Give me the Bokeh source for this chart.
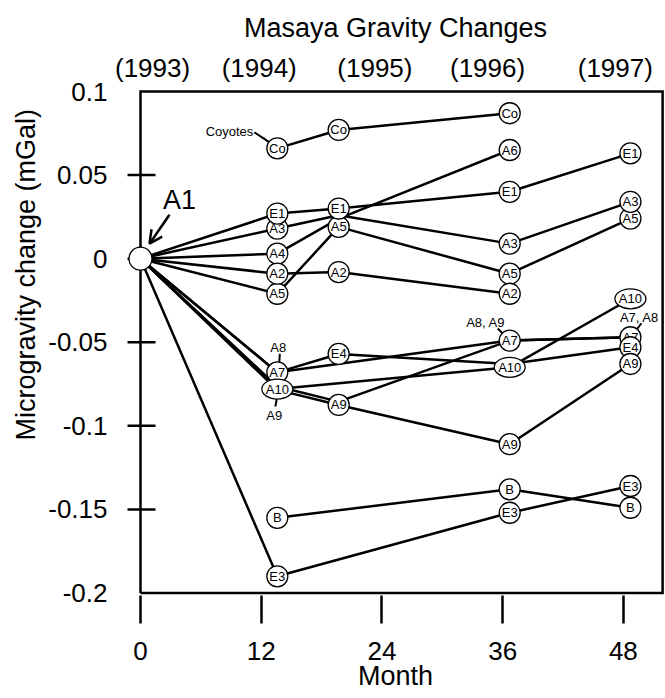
from bokeh.plotting import figure
from bokeh.models import Range1d, FixedTicker, LinearAxis, Arrow, OpenHead, Title
from bokeh.core.properties import value
from bokeh.embed import file_html
from bokeh.resources import INLINE

FONT = "Liberation Sans"

# ---------------- data ----------------
survey_month = [0, 13.6, 19.7, 36.7, 48.7]          # surveys 1993..1997
month_ticks = [0, 12, 24, 36, 48]
gravity_ticks = [0.1, 0.05, 0.0, -0.05, -0.1, -0.15, -0.2]
gravity_tick_labels = ["0.1", "0.05", "0", "-0.05", "-0.1", "-0.15", "-0.2"]
year_tick_pos = [1.2, 11.8, 23.3, 34.5, 47.2]
year_labels = ["(1993)", "(1994)", "(1995)", "(1996)", "(1997)"]

# station values (mGal) per survey; None = not shown
Co = [None, 0.066, 0.077, 0.087, None]
A5 = [0, -0.021, 0.019, -0.009, 0.024]
A3 = [0, 0.018, 0.026, 0.009, 0.034]
E1 = [0, 0.027, 0.030, 0.040, 0.063]
A4 = [0, 0.003, 0.024, 0.065, None]
A2 = [0, -0.009, -0.008, -0.021, None]
A7 = [0, -0.068, None, -0.049, -0.047]
E4 = [0, -0.068, -0.057, -0.063, -0.053]
A10 = [0, -0.078, None, -0.065, -0.024]
A8 = [0, -0.0765, -0.0855, -0.049, -0.047]
A9 = [0, -0.0785, -0.0875, -0.111, -0.063]
B = [None, -0.155, None, -0.138, -0.149]
E3 = [0, -0.190, None, -0.152, -0.136]

# labels drawn in the markers (None = no marker)
Co_lab = [None, "Co", "Co", "Co", None]
A5_lab = [None, "A5", "A5", "A5", "A5"]
A3_lab = [None, "A3", None, "A3", "A3"]
E1_lab = [None, "E1", "E1", "E1", "E1"]
A4_lab = [None, "A4", None, "A6", None]
A2_lab = [None, "A2", "A2", "A2", None]
A7_lab = [None, "A7", None, "A7", "A7"]
E4_lab = [None, None, "E4", None, "E4"]
A10_lab = [None, "A10", None, "A10", "A10"]
A8_lab = [None, None, None, None, None]
A9_lab = [None, None, "A9", "A9", "A9"]
B_lab = [None, "B", None, "B", "B"]
E3_lab = [None, "E3", None, "E3", "E3"]

series = [(Co, Co_lab), (A5, A5_lab), (A3, A3_lab), (E1, E1_lab), (A4, A4_lab),
          (A2, A2_lab), (A7, A7_lab), (E4, E4_lab), (A10, A10_lab), (A8, A8_lab),
          (A9, A9_lab), (B, B_lab), (E3, E3_lab)]

# ---------------- layout ----------------
W, H = 665, 698
ML, MR, MT, MB = 126, 1, 88, 103
FW, FH = W - ML - MR, H - MT - MB
PXM = 10.06                       # px per month
X0 = -14 / PXM
X1 = X0 + FW / PXM
BOX_X = 51.9
PXV = (592.5 - 91) / 0.3          # px per mGal
Y1 = 0.1 + 3 / PXV
Y0 = Y1 - FH / PXV


def dx(px):
    return px / PXM


def dy(px):  # screen px downward -> data offset
    return -px / PXV


p = figure(width=W, height=H, x_range=Range1d(X0, X1), y_range=Range1d(Y0, Y1),
           output_backend="svg", toolbar_location=None,
           min_border_left=ML, min_border_right=MR, min_border_top=MT, min_border_bottom=MB,
           title="Masaya Gravity Changes")
p.outline_line_color = None
p.xgrid.visible = False
p.ygrid.visible = False
p.background_fill_color = "white"
p.border_fill_color = "white"

p.title.align = "center"
p.title.text_font = FONT
p.title.text_font_size = "27px"
p.title.text_font_style = "normal"
p.title.text_color = "black"
p.title.standoff = 13

xa = p.xaxis[0]
xa.ticker = FixedTicker(ticks=month_ticks)
xa.axis_line_color = None
xa.major_tick_out = 28
xa.major_tick_in = 0
xa.major_tick_line_width = 2.5
xa.major_tick_line_color = "black"
xa.minor_tick_line_color = None
xa.major_label_standoff = 18
xa.major_label_text_font = FONT
xa.major_label_text_font_size = "26px"
xa.major_label_text_color = "black"
xa.axis_label = "Month"
xa.axis_label_text_font = FONT
xa.axis_label_text_font_size = "27px"
xa.axis_label_text_font_style = "normal"
xa.axis_label_text_color = "black"
xa.axis_label_standoff = -2

ya = p.yaxis[0]
ya.ticker = FixedTicker(ticks=gravity_ticks)
ya.major_label_overrides = {t: s for t, s in zip(gravity_ticks, gravity_tick_labels)}
ya.axis_line_color = None
ya.major_tick_out = 0
ya.major_tick_in = 0
ya.minor_tick_line_color = None
ya.major_label_standoff = 19
ya.major_label_text_font = FONT
ya.major_label_text_font_size = "26px"
ya.major_label_text_color = "black"

ylab = Title(text="Microgravity change (mGal)", align="left", offset=155,
             text_font=FONT, text_font_size="27px", text_font_style="normal",
             text_color="black", standoff=10)
p.add_layout(ylab, "left")

ta = LinearAxis(ticker=FixedTicker(ticks=year_tick_pos),
                major_label_overrides={t: s for t, s in zip(year_tick_pos, year_labels)},
                axis_line_color=None, major_tick_line_color=None, minor_tick_line_color=None,
                major_tick_out=0, major_tick_in=0,
                major_label_standoff=6, major_label_text_font=FONT,
                major_label_text_font_size="26px", major_label_text_color="black")
p.add_layout(ta, "above")

# box frame
yb, yt = gravity_ticks[-1], gravity_ticks[0]
p.line(x=[0, 0, BOX_X, BOX_X, 0], y=[yb, yt, yt, yb, yb], line_width=2.5,
       line_color="black", line_join="miter")
# crossing ticks on the left axis
inner_ticks = gravity_ticks[1:-1]
p.segment(x0=[dx(-13)] * len(inner_ticks), y0=inner_ticks,
          x1=[dx(15)] * len(inner_ticks), y1=inner_ticks,
          line_width=2.5, line_color="black")

# series lines
for vals, _ in series:
    xs = [m for m, v in zip(survey_month, vals) if v is not None]
    ys = [v for v in vals if v is not None]
    p.line(xs, ys, line_width=2.5, line_color="black", line_join="round", line_cap="round")

# annotation texts with leader ticks: (text, anchor series, index, text offset, tick from, tick to, align)
annots = [
    ("Coyotes", Co, 1, (-24, -17), (-23, -16), (-8.5, -6.5), "right"),
    ("A8", A7, 1, (1, -24.5), (2.5, -18.5), (2, -10.5), "center"),
    ("A9", A10, 1, (-3, 26), (-0.5, 10), (-2, 17.5), "center"),
    ("A8, A9", A7, 3, (-24, -18), (-12, -12), (-6, -6), "center"),
    ("A7, A8", A7, 4, (9, -20), (11, -14), (5, -6), "center"),
]
for txt, ser, i, to, t0, t1, al in annots:
    mx, my = survey_month[i], ser[i]
    p.segment(x0=[mx + dx(t0[0])], y0=[my + dy(t0[1])], x1=[mx + dx(t1[0])], y1=[my + dy(t1[1])],
              line_width=2, line_color="black")
    p.text(x=[mx + dx(to[0])], y=[my + dy(to[1])], text=[txt], text_font=value(FONT),
           text_font_size="13px", text_align=al, text_baseline="middle", text_color="black")

# origin A1
p.scatter(x=[survey_month[0]], y=[0], size=23, marker="circle", fill_color="white",
          line_color="black", line_width=1.3)
p.text(x=[survey_month[0] + dx(39)], y=[0 + dy(-59)], text=["A1"], text_font=value(FONT),
       text_font_size="27px", text_align="center", text_baseline="middle", text_color="black")
p.add_layout(Arrow(end=OpenHead(size=13, line_width=2.5, line_color="black"),
                   x_start=survey_month[0] + dx(29), y_start=dy(-44),
                   x_end=survey_month[0] + dx(9), y_end=dy(-15),
                   line_width=2.5, line_color="black"))

# station markers
for vals, labs in series:
    cx, cy, ct, ex, ey, et = [], [], [], [], [], []
    for m, v, l in zip(survey_month, vals, labs):
        if l is None or v is None:
            continue
        if l == "A10":
            ex.append(m); ey.append(v); et.append(l)
        else:
            cx.append(m); cy.append(v); ct.append(l)
    if cx:
        p.scatter(x=cx, y=cy, size=21, marker="circle", fill_color="white",
                  line_color="black", line_width=1.3)
    if ex:
        p.ellipse(x=ex, y=ey, width=31, height=20, width_units="screen", height_units="screen",
                  fill_color="white", line_color="black", line_width=1.3)
    allx, ally, allt = cx + ex, cy + ey, ct + et
    if allx:
        p.text(x=allx, y=ally, text=allt, text_font=value(FONT), text_font_size="13px",
               text_align="center", text_baseline="middle", text_color="black")

open("out.html", "w").write(file_html(p, INLINE))
